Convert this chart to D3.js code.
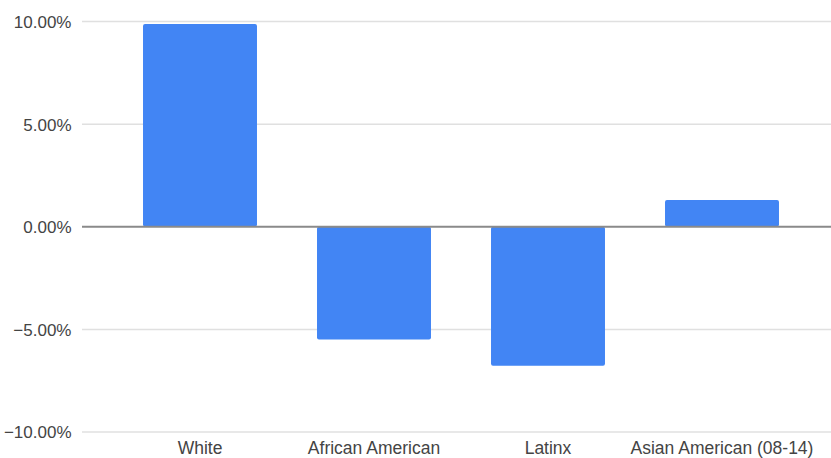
<!DOCTYPE html>
<html>
<head>
<meta charset="utf-8">
<script src="https://cdn.jsdelivr.net/npm/d3@7"></script>
<style>
  html, body { margin: 0; padding: 0; background: #fff; }
  svg { display: block; font-family: "Liberation Sans", Arial, sans-serif; }
</style>
</head>
<body>
<svg id="chart" width="831" height="458"></svg>
<script>
// Change in share by group (percent)
const categories = ["White", "African American", "Latinx", "Asian American (08-14)"];
const values = [9.88, -5.49, -6.77, 1.30];
const yTicks = [-10, -5, 0, 5, 10];

const svg = d3.select("#chart");
const gridLeft = 82, gridRight = 831;

const y = d3.scaleLinear().domain([-10, 10]).range([432, 21.5]);
const x = d3.scaleBand()
  .domain(categories)
  .range([113, 809])
  .paddingInner(0.345)
  .paddingOuter(0.1725);

// Horizontal gridlines
svg.append("g")
  .selectAll("line")
  .data(yTicks.filter(d => d !== 0))
  .join("line")
  .attr("x1", gridLeft).attr("x2", gridRight)
  .attr("y1", d => y(d)).attr("y2", d => y(d))
  .attr("stroke", "#e0e0e0")
  .attr("stroke-width", 1.5);

// Y-axis labels
const yAxis = d3.axisLeft(y)
  .tickValues(yTicks)
  .tickSize(0)
  .tickPadding(0)
  .tickFormat(d => d3.format(".2f")(d) + "%");
const gy = svg.append("g")
  .attr("transform", "translate(71.5,0.5)")
  .call(yAxis);
gy.select(".domain").remove();
gy.selectAll("text")
  .attr("fill", "#444")
  .attr("font-size", 17)
  .attr("font-family", "'Liberation Sans', Arial, sans-serif");

// Bars
svg.append("g")
  .selectAll("rect")
  .data(categories.map((c, i) => ({ c, v: values[i] })))
  .join("rect")
  .attr("x", d => x(d.c))
  .attr("width", x.bandwidth())
  .attr("y", d => y(Math.max(0, d.v)))
  .attr("height", d => Math.abs(y(d.v) - y(0)))
  .attr("rx", 2)
  .attr("fill", "#4285f4");

// Zero baseline
svg.append("line")
  .attr("x1", gridLeft).attr("x2", gridRight)
  .attr("y1", y(0)).attr("y2", y(0))
  .attr("stroke", "#8a8a8a")
  .attr("stroke-width", 2);

// X-axis category labels
const xAxis = d3.axisBottom(x).tickSize(0).tickPadding(0);
const gx = svg.append("g")
  .attr("transform", "translate(0,442)")
  .call(xAxis);
gx.select(".domain").remove();
gx.selectAll("text")
  .attr("fill", "#444")
  .attr("font-size", 17.5)
  .attr("font-family", "'Liberation Sans', Arial, sans-serif");
</script>
</body>
</html>
